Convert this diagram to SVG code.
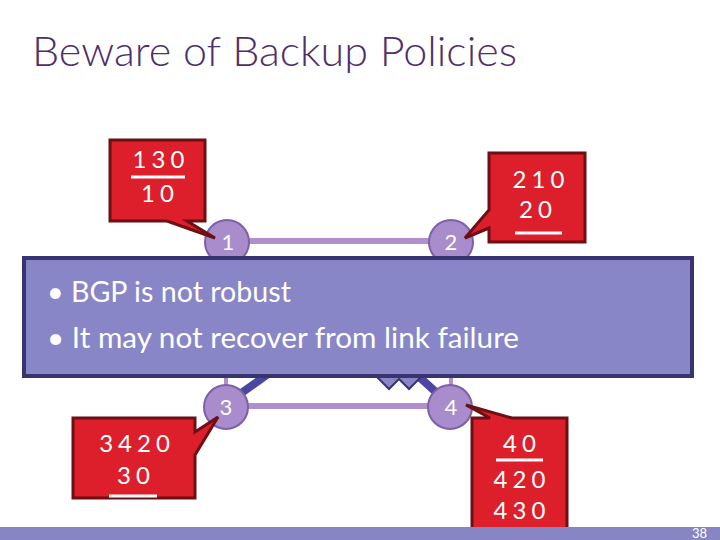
<svg xmlns="http://www.w3.org/2000/svg" width="720" height="540" viewBox="0 0 720 540">
<style>
.title{font-family:Lato,"Liberation Sans",sans-serif;font-weight:300;font-size:42px;fill:#4e2f6c}
.node circle{fill:#a98ccb;stroke:#7d61a8;stroke-width:2}
.node text{font-family:Lato,"Liberation Sans",sans-serif;font-size:22px;fill:#fff;text-anchor:middle}
.callout path{fill:#dc1f2b;stroke:#6d0f13;stroke-width:3;stroke-linejoin:miter}
.callout text{font-family:Lato,"Liberation Sans",sans-serif;font-size:24px;fill:#fff;text-anchor:middle;letter-spacing:5px}
.callout line{stroke:#fff;stroke-width:3}
.link{stroke:#b08fcc;stroke-width:6}
.thin{stroke:#b08fcc;stroke-width:4}
.thick{stroke:#4a47a2;stroke-width:8}
.box text{font-family:Lato,"Liberation Sans",sans-serif;font-size:28px;fill:#fff}
</style>
<rect width="720" height="540" fill="#fff"/>
<text class="title" x="32" y="66" textLength="485" lengthAdjust="spacingAndGlyphs">Beware of Backup Policies</text>

<g id="connectors">
<line class="link" x1="227" y1="241" x2="451" y2="241"/>
<line class="link" x1="226" y1="406" x2="450" y2="406"/>
<line class="thin" x1="226" y1="370" x2="226" y2="390"/>
<line class="thin" x1="451" y1="370" x2="451" y2="390"/>
<line class="thick" x1="240" y1="394" x2="268" y2="374"/>
<line class="thick" x1="438" y1="394" x2="416" y2="374"/>
<path d="M374 374 L389 389 L399 379 L409 389 L424 374 Z" fill="#8886c6" stroke="#37346f" stroke-width="2"/>
</g>

<g id="n1" class="node"><circle cx="227" cy="242" r="22"/><text x="228" y="250">1</text></g>
<g id="n2" class="node"><circle cx="451" cy="242" r="22"/><text x="451" y="250">2</text></g>
<g id="n3" class="node"><circle cx="226" cy="407" r="22"/><text x="226" y="415">3</text></g>
<g id="n4" class="node"><circle cx="450" cy="407" r="22"/><text x="451" y="415">4</text></g>

<g id="box" class="box">
<rect x="24" y="258" width="668" height="118" fill="#8886c6" stroke="#37346f" stroke-width="4"/>
<text x="47" y="302" textLength="244" lengthAdjust="spacingAndGlyphs">• BGP is not robust</text>
<text x="47" y="348" textLength="472" lengthAdjust="spacingAndGlyphs">• It may not recover from link failure</text>
</g>

<g id="c1" class="callout">
<path d="M110 140 H205 V221 H187 L215 238 L167 221 H110 Z"/>
<text x="161" y="168">130</text>
<line x1="131" y1="177" x2="185" y2="177"/>
<text x="160" y="202">10</text>
</g>
<g id="c2" class="callout">
<path d="M489 153 H585 V242 H489 V228 L465 238 L489 210 Z"/>
<text x="541" y="188">210</text>
<text x="538" y="218">20</text>
<line x1="515" y1="233" x2="562" y2="233"/>
</g>
<g id="c3" class="callout">
<path d="M73 418 H195 V432 L218 417 L195 455 V498 H73 Z"/>
<text x="137" y="452">3420</text>
<text x="136" y="484">30</text>
<line x1="109" y1="496" x2="157" y2="496"/>
</g>
<g id="c4" class="callout">
<path d="M472 418 H490 L466 405 L512 418 H567 V533 H472 Z"/>
<text x="522" y="452">40</text>
<line x1="496" y1="460" x2="543" y2="460"/>
<text x="522" y="488">420</text>
<text x="522" y="519">430</text>
</g>

<rect x="0" y="527" width="720" height="13" fill="#8785c4"/>
<text x="707" y="538" font-family="Lato,'Liberation Sans',sans-serif" font-size="13" fill="#fff" text-anchor="end">38</text>
</svg>
